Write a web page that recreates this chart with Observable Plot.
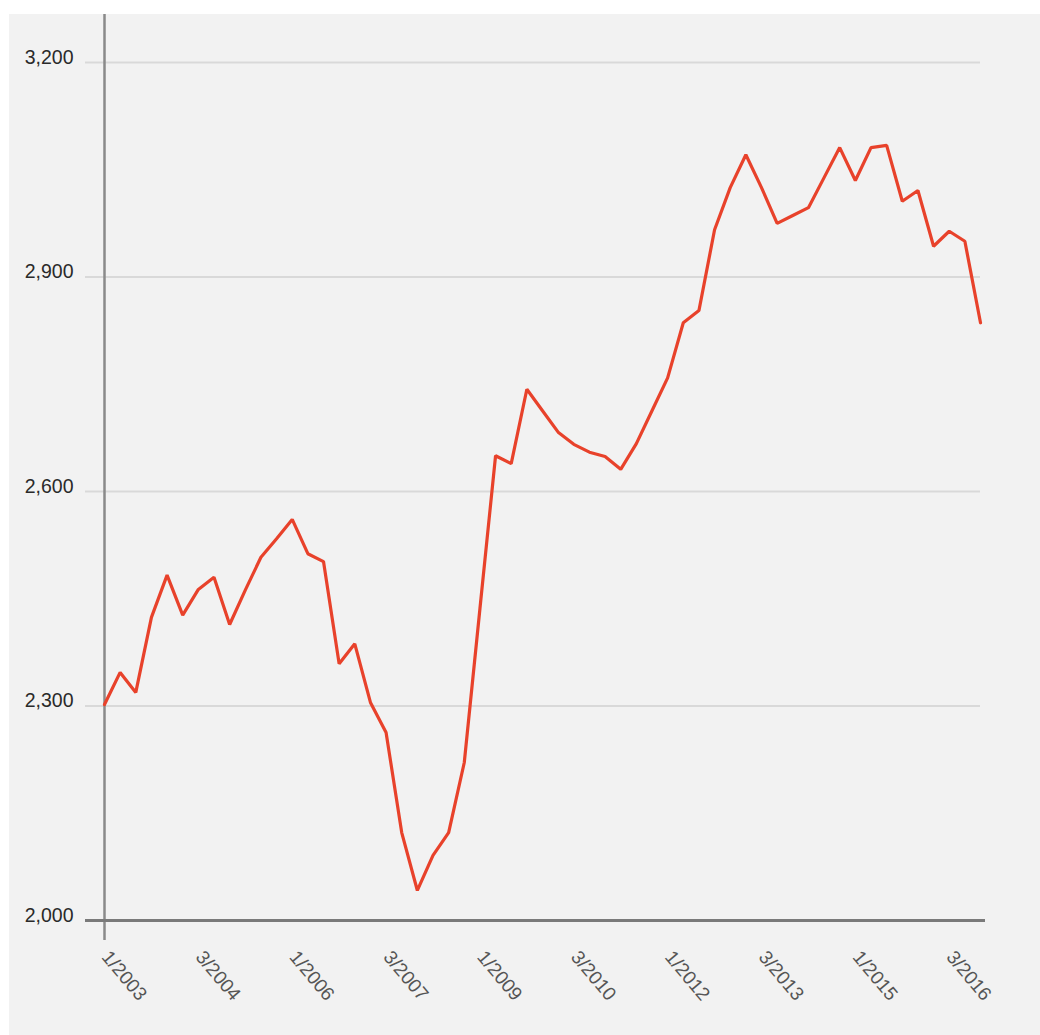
<!DOCTYPE html>
<html>
<head>
<meta charset="utf-8">
<script src="https://cdn.jsdelivr.net/npm/d3@7"></script>
<script src="https://cdn.jsdelivr.net/npm/@observablehq/plot@0.6"></script>
<style>
  html, body { margin: 0; padding: 0; background: #ffffff; }
  #bg { position: absolute; left: 9px; top: 14px; width: 1031px; height: 1021px; background: #f2f2f2; }
  #chart { position: absolute; left: 0; top: 0; }
</style>
</head>
<body>
<div id="bg"></div>
<div id="chart"></div>
<script>
// Quarterly series starting Q1 2003 (one value per quarter)
const startYear = 2003;
const startQuarter = 1;
const values = [
  2302, 2347, 2319, 2424, 2483, 2427, 2463, 2480, 2414, 2462,
  2508, 2534, 2561, 2513, 2502, 2359, 2387, 2305, 2263, 2123,
  2042, 2091, 2123, 2221, 2436, 2650, 2639, 2743, 2713, 2683,
  2666, 2655, 2649, 2631, 2667, 2713, 2759, 2836, 2853, 2966,
  3025, 3071, 3025, 2975, 2986, 2997, 3039, 3081, 3035, 3081,
  3084, 3006, 3021, 2943, 2964, 2950, 2836
];
const tickLabels = ["1/2003", "3/2004", "1/2006", "3/2007", "1/2009", "3/2010", "1/2012", "3/2013", "1/2015", "3/2016"];
const yTicks = [2000, 2300, 2600, 2900, 3200];

const data = values.map((v, i) => ({i, v}));
const tickIdx = tickLabels.map(l => {
  const [q, y] = l.split("/").map(Number);
  return (y - startYear) * 4 + (q - startQuarter);
});
const ticks = tickIdx.map((i, k) => ({i, label: tickLabels[k]}));

const font = "Helvetica, Arial, 'Liberation Sans', sans-serif";

const chart = Plot.plot({
  width: 1040,
  height: 1035,
  marginLeft: 104,
  marginRight: 60,
  marginTop: 62,
  marginBottom: 115,
  style: {background: "transparent", fontFamily: font},
  x: {domain: [0, values.length - 1], axis: null},
  y: {domain: [2000, 3200], axis: null},
  marks: [
    Plot.ruleY(yTicks.filter(t => t !== 2000), {stroke: "#d9d9d9", strokeWidth: 2, insetLeft: -19}),
    Plot.ruleX([0], {stroke: "#8a8a8a", strokeWidth: 2.5, insetTop: -48, insetBottom: -20}),
    Plot.ruleY([2000], {stroke: "#7a7a7a", strokeWidth: 3, insetLeft: -19, insetRight: -5}),
    Plot.line(data, {x: "i", y: "v", stroke: "#e8422b", strokeWidth: 3.2, strokeLinejoin: "miter"}),
    Plot.text(yTicks, {
      y: d => d, frameAnchor: "left", dx: -31, dy: -5, textAnchor: "end",
      text: d => d3.format(",")(d), fontSize: 19.5, fill: "#2a2a2a"
    }),
    Plot.text(ticks, {
      x: "i", frameAnchor: "bottom", text: "label", rotate: 50, textAnchor: "start",
      lineAnchor: "middle", dx: 1, dy: 33, fontSize: 19, fill: "#555"
    })
  ]
});
document.getElementById("chart").appendChild(chart);
</script>
</body>
</html>
